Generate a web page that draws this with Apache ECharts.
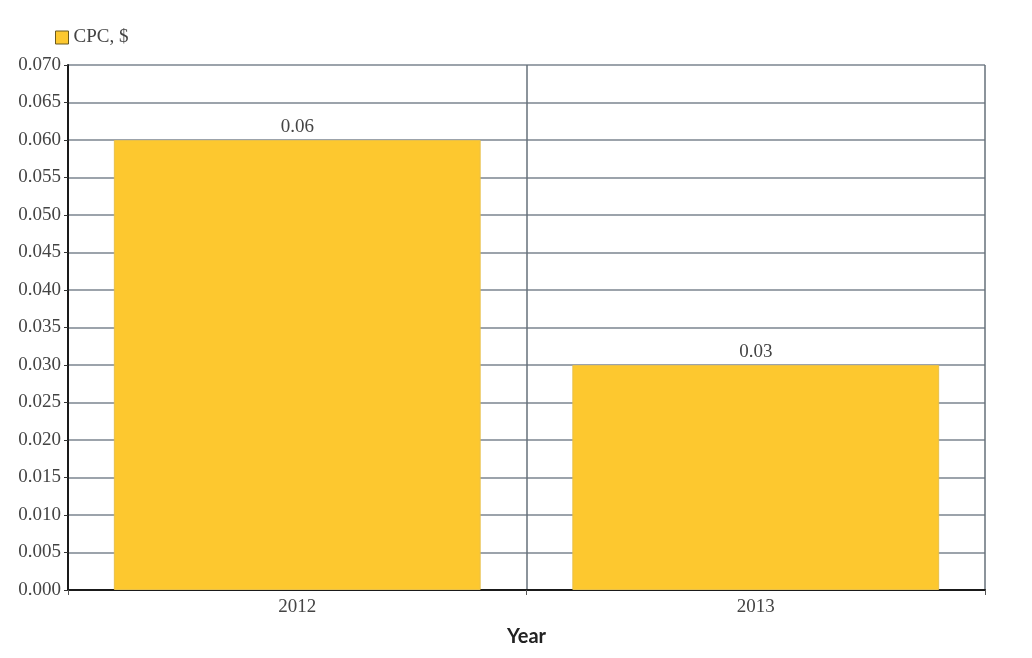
<!DOCTYPE html>
<html>
<head>
<meta charset="utf-8">
<script src="https://cdn.jsdelivr.net/npm/echarts@6/dist/echarts.min.js"></script>
<style>html,body{margin:0;padding:0;background:#fff}#c{width:1032px;height:658px}</style>
</head>
<body>
<div id="c"></div>
<script>
const categories = ['2012', '2013'];
const cpcValues = [0.06, 0.03];
const seriesName = 'CPC, $';
const xAxisTitle = 'Year';

const serif = 'Liberation Serif';
const chart = echarts.init(document.getElementById('c'));
chart.setOption({
  animation: false,
  backgroundColor: '#ffffff',
  legend: {
    left: 50, top: 23,
    itemWidth: 13, itemHeight: 13, itemGap: 7,
    icon: 'rect',
    textStyle: { fontFamily: serif, fontSize: 19, color: '#444' },
    data: [{ name: seriesName, itemStyle: { color: '#FDC82F', borderColor: '#6b5a20', borderWidth: 1 } }]
  },
  grid: { left: 68, right: 47, top: 65, bottom: 68 },
  xAxis: {
    type: 'category',
    data: categories,
    name: xAxisTitle,
    nameLocation: 'middle',
    nameGap: 37,
    nameTextStyle: { fontFamily: 'Lato', fontWeight: 'bold', fontSize: 20, color: '#222' },
    axisLine: { lineStyle: { color: '#1a1a1a', width: 2 } },
    axisTick: { show: true, length: 5, lineStyle: { color: '#555', width: 1 } },
    axisLabel: { fontFamily: serif, fontSize: 19, color: '#444', margin: 8 },
    splitLine: { show: true, lineStyle: { color: '#66707a', width: 1.5 } }
  },
  yAxis: {
    type: 'value',
    min: 0, max: 0.07, interval: 0.005,
    axisLine: { show: true, lineStyle: { color: '#1a1a1a', width: 2 } },
    axisTick: { show: true, length: 4, lineStyle: { color: '#333' } },
    axisLabel: { fontFamily: serif, fontSize: 19, color: '#444', margin: 7,
      formatter: v => v.toFixed(3) },
    splitLine: { show: true, lineStyle: { color: '#7b858f', width: 1.5 } }
  },
  series: [{
    name: seriesName,
    type: 'bar',
    data: cpcValues,
    barWidth: '80%',
    itemStyle: { color: '#FDC82F', borderColor: '#e8c04a', borderWidth: 1 },
    label: { show: true, position: 'top', distance: 3, fontFamily: serif, fontSize: 19, color: '#444',
      formatter: p => p.value.toFixed(2) }
  }]
});
</script>
</body>
</html>
